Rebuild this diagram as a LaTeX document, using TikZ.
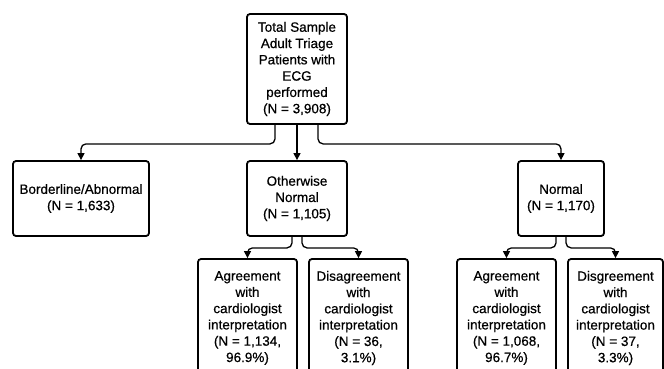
\documentclass[tikz,border=0pt]{standalone}
\usepackage{fontspec}
\setmainfont[FakeBold=0.6]{Liberation Sans}
\usetikzlibrary{arrows.meta}
\begin{document}
\begin{tikzpicture}[x=1pt,y=-1pt,
    box/.style={draw,line width=1.8pt,rounded corners=3pt,align=center,
      inner sep=0pt,font=\fontsize{13.5}{16.3}\selectfont},
    link/.style={line width=1.3pt,rounded corners=5pt,
      -{Triangle[length=7pt,width=7pt]}}]
  \clip (0,0) rectangle (664,369);
  \node[box,minimum width=100pt,minimum height=110pt] (total) at (297,69)
    {Total Sample\\Adult Triage\\Patients with\\ECG\\performed\\(N = 3,908)};
  \node[box,minimum width=136pt,minimum height=75pt] (border) at (81,198.5)
    {Borderline/Abnormal\\(N = 1,633)};
  \node[box,minimum width=100pt,minimum height=75pt] (other) at (297,198.5)
    {Otherwise\\Normal\\(N = 1,105)};
  \node[box,minimum width=86pt,minimum height=75pt] (normal) at (561,198.5)
    {Normal\\(N = 1,170)};
  \node[box,minimum width=99pt,minimum height=118pt] (agree1) at (247.5,318)
    {Agreement\\with\\cardiologist\\interpretation\\(N = 1,134,\\96.9\%)};
  \node[box,minimum width=99pt,minimum height=118pt] (disagree1) at (358.5,318)
    {Disagreement\\with\\cardiologist\\interpretation\\(N = 36,\\3.1\%)};
  \node[box,minimum width=99pt,minimum height=118pt] (agree2) at (506.5,318)
    {Agreement\\with\\cardiologist\\interpretation\\(N = 1,068,\\96.7\%)};
  \node[box,minimum width=95pt,minimum height=118pt] (disagree2) at (615.5,318)
    {Disgreement\\with\\cardiologist\\interpretation\\(N = 37,\\3.3\%)};
  \begin{scope}[link]
    \draw ([xshift=-22pt]total.south) -- ++(0,19) -| (border.north);
    \draw (total.south) -- (other.north);
    \draw ([xshift=21pt]total.south) -- ++(0,19) -| (normal.north);
    \draw ([xshift=-5pt]other.south) -- ++(0,11) -| (agree1.north);
    \draw ([xshift=5pt]other.south) -- ++(0,11) -| (disagree1.north);
    \draw ([xshift=-5pt]normal.south) -- ++(0,11) -| (agree2.north);
    \draw ([xshift=5pt]normal.south) -- ++(0,11) -| (disagree2.north);
  \end{scope}
\end{tikzpicture}
\end{document}
